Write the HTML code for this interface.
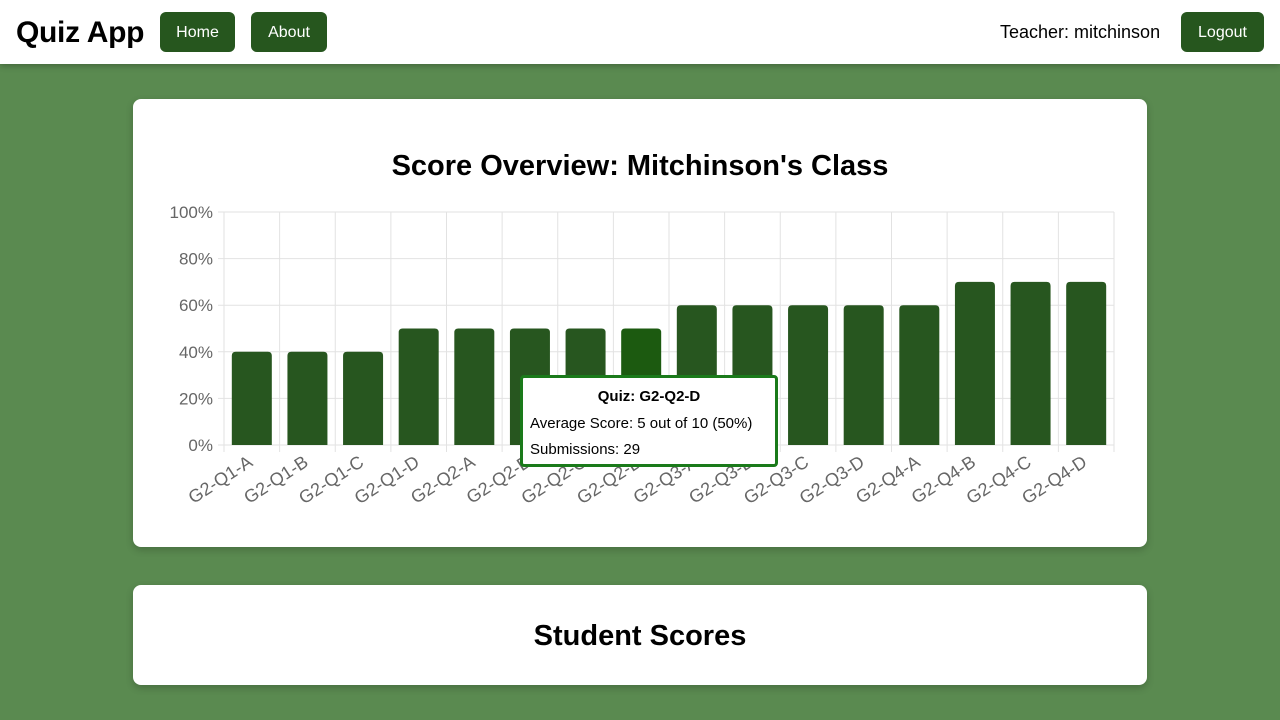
<!DOCTYPE html>
<html><head><meta charset="utf-8">
<style>
body{margin:0;width:1280px;height:720px;background:#5a8a50;font-family:"Liberation Sans",sans-serif;overflow:hidden;position:relative}
.nav{position:absolute;left:0;top:0;width:1280px;height:64px;background:#fff;box-shadow:0 2px 6px rgba(0,0,0,.25)}
.brand{position:absolute;left:16px;top:16px;font-size:30px;font-weight:bold;color:#000;letter-spacing:-0.3px}
.btn{position:absolute;top:12px;height:40px;background:#26561e;color:#fff;border-radius:6px;font-size:16px;line-height:42px;text-align:center}
.card{position:absolute;left:133px;width:1014px;background:#fff;border-radius:8px;box-shadow:0 3px 8px rgba(0,0,0,.2)}
h2{margin:0;position:absolute;width:100%;text-align:center;font-size:29px;font-weight:bold}
</style></head><body>
<div class="nav">
<div class="brand">Quiz App</div>
<div class="btn" style="left:160px;width:75px">Home</div>
<div class="btn" style="left:251px;width:76px">About</div>
<div style="position:absolute;left:1000px;top:22px;font-size:18px">Teacher: mitchinson</div>
<div class="btn" style="left:1181px;width:83px">Logout</div>
</div>
<div class="card" style="top:99px;height:448px">
<h2 style="top:51px">Score Overview: Mitchinson's Class</h2>
</div>
<svg id="chart" width="1280" height="720" style="position:absolute;left:0;top:0"></svg>
<div style="position:absolute;left:520px;top:375px;width:252px;height:86px;border:3px solid #1a7a1a;border-radius:4px;background:#fff;font-size:15px">
<div style="position:absolute;top:10px;width:100%;text-align:center;font-weight:bold">Quiz: G2-Q2-D</div>
<div style="position:absolute;top:37px;left:7px">Average Score: 5 out of 10 (50%)</div>
<div style="position:absolute;top:63px;left:7px">Submissions: 29</div>
</div>
<div class="card" style="top:585px;height:100px">
<h2 style="top:35px">Student Scores</h2>
</div>
<script>
const categories=["G2-Q1-A","G2-Q1-B","G2-Q1-C","G2-Q1-D","G2-Q2-A","G2-Q2-B","G2-Q2-C","G2-Q2-D","G2-Q3-A","G2-Q3-B","G2-Q3-C","G2-Q3-D","G2-Q4-A","G2-Q4-B","G2-Q4-C","G2-Q4-D"];
const scores=[40,40,40,50,50,50,50,50,60,60,60,60,60,70,70,70];
const yTicks=[0,20,40,60,80,100];
const svg=document.getElementById('chart');const NS='http://www.w3.org/2000/svg';
const L=224,R=1114,T=212,B=445;const bw=(R-L)/categories.length;
const y=v=>B-(v/100)*(B-T);const x=i=>L+i*bw;
function mk(t,a){const e=document.createElementNS(NS,t);for(const k in a)e.setAttribute(k,a[k]);svg.appendChild(e);return e;}
yTicks.forEach(v=>{const g=mk('line',{x1:L-6,x2:R,y1:y(v),y2:y(v),stroke:'#e2e2e2'});

const t=mk('text',{x:L-11,y:y(v)+6,'text-anchor':'end','font-size':17,fill:'#666','font-family':'Liberation Sans'});t.textContent=v+'%';
});
for(let i=0;i<=categories.length;i++){const g=mk('line',{x1:x(i),x2:x(i),y1:T,y2:B+7,stroke:'#e2e2e2'});
}
categories.forEach((c,i)=>{const cx=x(i)+bw/2,w=40;
const r=mk('path',{d:`M${cx-w/2},${B}V${y(scores[i])+4}q0,-4 4,-4h${w-8}q4,0 4,4V${B}Z`,fill:i==7?'#1c5a10':'#27561f'});

const tx=cx+2,ty=B+20;
const t=mk('text',{x:tx,y:ty,'text-anchor':'end','font-size':18,fill:'#666','font-family':'Liberation Sans',transform:`rotate(-33 ${tx} ${ty})`});t.textContent=c;
});
</script>
</body></html>
